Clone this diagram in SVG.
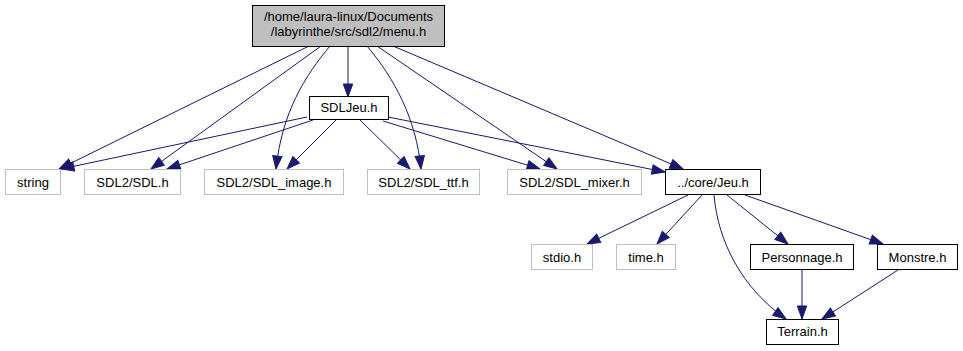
<svg xmlns="http://www.w3.org/2000/svg" width="963" height="351" viewBox="0 0 963 351">
  <style>
    .box { fill: #ffffff; stroke: #000000; stroke-width: 1; }
    .ext { fill: #ffffff; stroke: #bfbfbf; stroke-width: 1; }
    .root { fill: #bfbfbf; stroke: #000000; stroke-width: 1; }
    text { font-family: "Liberation Sans", Arial, Helvetica, sans-serif; font-size: 13px; fill: #000000; text-anchor: middle; }
    .edge { fill: none; stroke: #191970; stroke-width: 1; marker-end: url(#arrow); }
  </style>
  <defs>
    <marker id="arrow" markerUnits="userSpaceOnUse" markerWidth="14" markerHeight="11" refX="13" refY="4.7" orient="auto" overflow="visible">
      <path d="M0,0 L13,4.7 L0,9.4 Z" fill="#191970" stroke="#191970" stroke-width="1"/>
    </marker>
  </defs>
  <rect width="963" height="351" fill="#ffffff"/>

  <g id="connectors">
    <!-- menu.h includes -->
    <path class="edge" d="M309,46 L59,169"/>
    <path class="edge" d="M321,46 L151,169"/>
    <path class="edge" d="M330,46 C305,76 282,112 276,169"/>
    <path class="edge" d="M348,46 L348,97"/>
    <path class="edge" d="M367,46 C394,78 416,118 421,169"/>
    <path class="edge" d="M377,46 L557,169"/>
    <path class="edge" d="M393,46 L683,169"/>
    <!-- SDLJeu.h includes -->
    <path class="edge" d="M307,117 L61,169"/>
    <path class="edge" d="M313,120 L167,169"/>
    <path class="edge" d="M336,120 L287,169"/>
    <path class="edge" d="M360,120 L410,169"/>
    <path class="edge" d="M383,121 L540,169"/>
    <path class="edge" d="M388,117 L665,172"/>
    <!-- ../core/Jeu.h includes -->
    <path class="edge" d="M688,195 L587,244"/>
    <path class="edge" d="M702,195 L657,244"/>
    <path class="edge" d="M714,195 C718,242 742,288 786,319"/>
    <path class="edge" d="M727,195 L788,244"/>
    <path class="edge" d="M745,195 L883,244"/>
    <!-- Personnage.h / Monstre.h includes -->
    <path class="edge" d="M802,270 L802,319"/>
    <path class="edge" d="M898,270 L822,319"/>
  </g>

  <g id="node-menu">
    <rect class="root" x="252.5" y="5.5" width="192" height="41"/>
    <text x="348.5" y="21">/home/laura-linux/Documents</text>
    <text x="348.5" y="36">/labyrinthe/src/sdl2/menu.h</text>
  </g>
  <g id="node-sdljeu">
    <rect class="box" x="309.5" y="96.5" width="79" height="23"/>
    <text x="349" y="112">SDLJeu.h</text>
  </g>
  <g id="node-string">
    <rect class="ext" x="5.5" y="169.5" width="55" height="25"/>
    <text x="33" y="186.5">string</text>
  </g>
  <g id="node-sdl">
    <rect class="ext" x="84.5" y="169.5" width="96" height="25"/>
    <text x="132.5" y="186.5">SDL2/SDL.h</text>
  </g>
  <g id="node-sdl-image">
    <rect class="ext" x="204.5" y="169.5" width="139" height="25"/>
    <text x="274" y="186.5">SDL2/SDL_image.h</text>
  </g>
  <g id="node-sdl-ttf">
    <rect class="ext" x="367.5" y="169.5" width="112" height="25"/>
    <text x="423.5" y="186.5">SDL2/SDL_ttf.h</text>
  </g>
  <g id="node-sdl-mixer">
    <rect class="ext" x="507.5" y="169.5" width="134" height="25"/>
    <text x="574.5" y="186.5">SDL2/SDL_mixer.h</text>
  </g>
  <g id="node-jeu">
    <rect class="box" x="665.5" y="169.5" width="95" height="25"/>
    <text x="713" y="186.5">../core/Jeu.h</text>
  </g>
  <g id="node-stdio">
    <rect class="ext" x="531.5" y="244.5" width="61" height="25"/>
    <text x="562" y="261.5">stdio.h</text>
  </g>
  <g id="node-time">
    <rect class="ext" x="616.5" y="244.5" width="59" height="25"/>
    <text x="646" y="261.5">time.h</text>
  </g>
  <g id="node-personnage">
    <rect class="box" x="750.5" y="244.5" width="103" height="25"/>
    <text x="802" y="261.5">Personnage.h</text>
  </g>
  <g id="node-monstre">
    <rect class="box" x="877.5" y="244.5" width="80" height="25"/>
    <text x="917.5" y="261.5">Monstre.h</text>
  </g>
  <g id="node-terrain">
    <rect class="box" x="766.5" y="319.5" width="72" height="25"/>
    <text x="802.5" y="336">Terrain.h</text>
  </g>
</svg>
